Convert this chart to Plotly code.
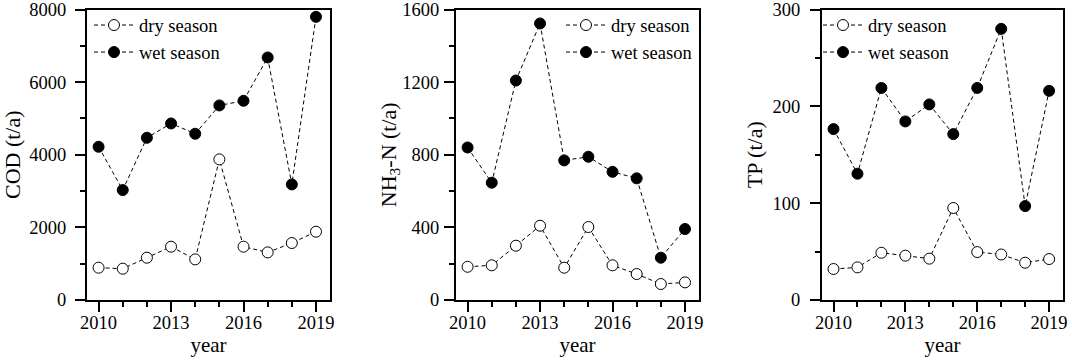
import plotly.graph_objects as go

years = [2010, 2011, 2012, 2013, 2014, 2015, 2016, 2017, 2018, 2019]

cod_dry = [890, 862, 1165, 1468, 1119, 3872, 1468, 1312, 1569, 1881]
cod_wet = [4220, 3028, 4468, 4862, 4578, 5358, 5486, 6679, 3183, 7798]

nh3_dry = [183, 191, 299, 409, 178, 402, 191, 143, 88, 97]
nh3_wet = [840, 646, 1209, 1523, 769, 789, 706, 670, 233, 391]

tp_dry = [32, 33.7, 48.8, 45.8, 42.7, 95, 49.5, 47, 38.5, 42.3]
tp_wet = [176.5, 130.4, 219, 184.4, 202, 171.3, 219, 280, 97, 216]

y_titles = ["COD (t/a)", "NH<sub>3</sub>-N (t/a)", "TP (t/a)"]
y_ranges = [[0, 8000], [0, 1600], [0, 300]]
y_dticks = [2000, 400, 100]
x_label_vals = [2010, 2013, 2016, 2019]
x_label_text = ["2010", "2013", "2016", "2019"]

W, H = 1072, 362
panels_px = [(87, 330), (456, 699), (822, 1063)]
top_px, bot_px = 9.5, 300
legend_x_px = [89, 561, 818]
ytick_standoff = [5, 1, 6]
ytitle_standoff = [4, 0, 4]

FONT = "Liberation Serif"
fig = go.Figure()

series = [(cod_dry, cod_wet), (nh3_dry, nh3_wet), (tp_dry, tp_wet)]
for i, (dry, wet) in enumerate(series):
    sfx = "" if i == 0 else str(i + 1)
    lg = "legend" + sfx
    fig.add_trace(go.Scatter(
        x=years, y=dry, name="dry season", mode="lines+markers",
        xaxis="x" + sfx, yaxis="y" + sfx, legend=lg,
        line=dict(color="black", width=1, dash="4px,3px"),
        marker=dict(symbol="circle", size=11, color="white",
                    line=dict(color="black", width=1)),
    ))
    fig.add_trace(go.Scatter(
        x=years, y=wet, name="wet season", mode="lines+markers",
        xaxis="x" + sfx, yaxis="y" + sfx, legend=lg,
        line=dict(color="black", width=1, dash="4px,3px"),
        marker=dict(symbol="circle", size=11, color="black",
                    line=dict(color="black", width=1)),
    ))

layout = dict(
    width=W, height=H,
    margin=dict(l=0, r=0, t=0, b=0),
    paper_bgcolor="white", plot_bgcolor="white",
    font=dict(family=FONT, color="black", size=18),
    showlegend=True,
)
for i in range(3):
    sfx = "" if i == 0 else str(i + 1)
    x0, x1 = panels_px[i]
    layout["xaxis" + sfx] = dict(
        domain=[x0 / W, x1 / W], anchor="y" + sfx,
        range=[2009.52, 2019.58],
        tickmode="array", tickvals=x_label_vals, ticktext=x_label_text,
        ticks="outside", ticklen=10, tickwidth=2, tickcolor="black",
        minor=dict(dtick=1, tick0=2010, ticks="outside", ticklen=5,
                   tickwidth=2, tickcolor="black", showgrid=False),
        showline=True, linewidth=2, linecolor="black", mirror=True,
        showgrid=False, zeroline=False,
        tickfont=dict(family=FONT, size=18.5, color="black"),
        ticklabelstandoff=-5, ticklabeloverflow="allow",
        title=dict(text="year", font=dict(family=FONT, size=21, color="black"),
                   standoff=0),
        automargin=False,
    )
    layout["yaxis" + sfx] = dict(
        domain=[(H - bot_px) / H, (H - top_px) / H], anchor="x" + sfx,
        range=y_ranges[i], dtick=y_dticks[i], tick0=0,
        ticks="outside", ticklen=10, tickwidth=2, tickcolor="black",
        minor=dict(dtick=y_dticks[i] / 2, ticks="outside", ticklen=5,
                   tickwidth=2, tickcolor="black", showgrid=False),
        showline=True, linewidth=2, linecolor="black", mirror=True,
        showgrid=False, zeroline=False,
        tickfont=dict(family=FONT, size=18.5, color="black"),
        ticklabelstandoff=ytick_standoff[i], ticklabeloverflow="allow",
        title=dict(text=y_titles[i], font=dict(family=FONT, size=22, color="black"),
                   standoff=ytitle_standoff[i]),
        automargin=False,
    )
    lg = "legend" + sfx
    layout[lg] = dict(
        x=legend_x_px[i] / W, y=(H - 6.5) / H, xanchor="left", yanchor="top",
        xref="paper", yref="paper",
        bgcolor="rgba(0,0,0,0)", borderwidth=0,
        font=dict(family=FONT, size=18.5, color="black"),
        itemwidth=40, tracegroupgap=0,
    )

fig.update_layout(**layout)
fig.write_html("out.html", config={"displayModeBar": False},
               post_script="document.body.style.margin='0';")
